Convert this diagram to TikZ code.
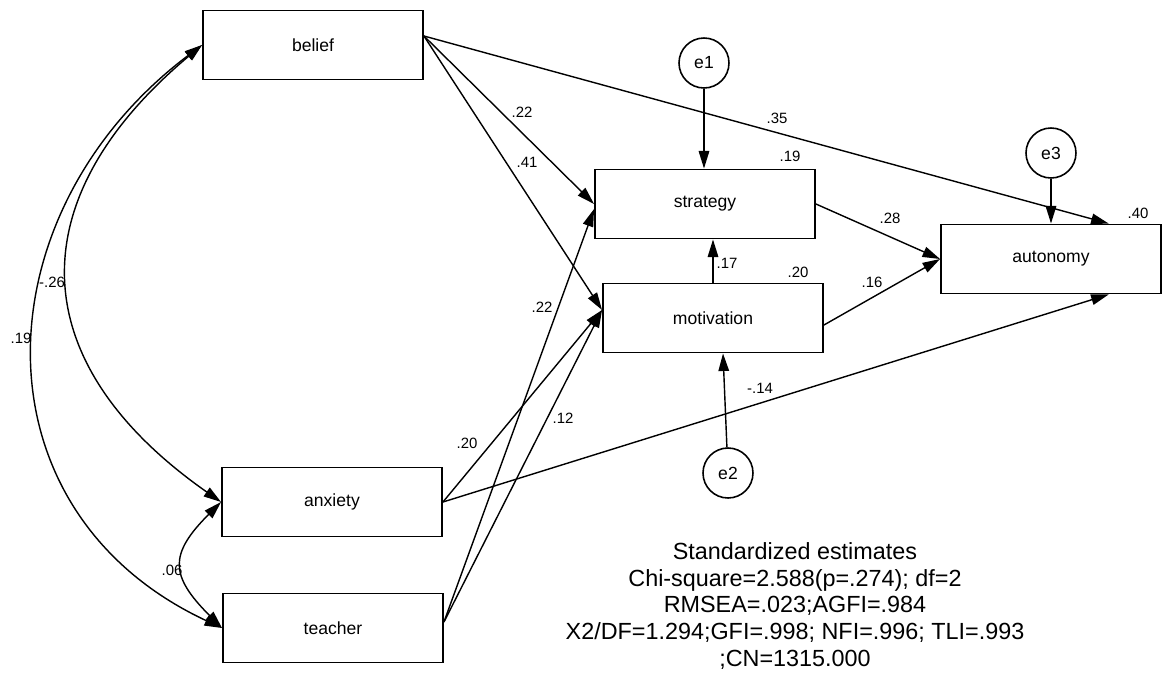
\documentclass[tikz,border=0pt]{standalone}
\usepackage{fontspec}
\setmainfont{Liberation Sans}
\usetikzlibrary{arrows.meta, calc}
\tikzset{
    var box/.style={
        draw, line width=1.1pt, minimum width=4.4cm, minimum height=1.38cm,
        inner sep=0pt, font=\fontsize{10}{12}\selectfont
    },
    err circle/.style={
        draw, circle, line width=0.9pt, minimum size=1cm,
        inner sep=0pt, font=\fontsize{10}{12}\selectfont
    },
    path arrow/.style={line width=0.8pt, -{Triangle[length=10pt,width=6pt]}},
    cov arrow/.style={line width=0.8pt,
        {Triangle[length=10pt,width=6pt]}-{Triangle[length=10pt,width=6pt]}},
    coef/.style={font=\fontsize{8.5}{10}\selectfont, inner sep=0pt}
}
\begin{document}
\begin{tikzpicture}[x=0.02cm, y=0.02cm]

\useasboundingbox (0,0) rectangle (1171,-674);

% Variables observadas
\node[var box] (belief) at (313,-45) {belief};
\node[var box] (anxiety) at (332,-502) {anxiety};
\node[var box] (teacher) at (333,-628) {teacher};
\node[var box] (strategy) at (705,-204) {strategy};
\node[var box] (motivation) at (713,-318) {motivation};
\node[var box] (autonomy) at (1051,-259) {autonomy};

% Errores
\node[err circle] (e1) at (704,-63) {e1};
\node[err circle] (e2) at (728,-473) {e2};
\node[err circle] (e3) at (1051,-153) {e3};

% Puntos de salida y llegada de las flechas
\coordinate (belief out) at ($(belief.east)+(0,9)$);
\coordinate (teacher out) at ($(teacher.east)+(0,6)$);
\coordinate (strategy in) at ($(strategy.west)+(0,-5)$);
\coordinate (motivation in) at ($(motivation.west)+(0,8)$);
\coordinate (motivation out) at ($(motivation.east)+(0,-7)$);
\coordinate (motivation low) at ($(motivation.south)+(10,0)$);
\coordinate (autonomy top) at ($(autonomy.north)!0.52!(autonomy.north east)$);
\coordinate (autonomy low) at ($(autonomy.south)!0.52!(autonomy.south east)$);

% Efectos directos
\draw[path arrow] (belief out) -- (strategy.west);
\draw[path arrow] (belief out) -- (motivation in);
\draw[path arrow] (belief out) -- (autonomy top);
\draw[path arrow] (anxiety.east) -- (motivation in);
\draw[path arrow] (anxiety.east) -- (autonomy low);
\draw[path arrow] (teacher out) -- (strategy in);
\draw[path arrow] (teacher out) -- (motivation in);
\draw[path arrow] (strategy.east) -- (autonomy.west);
\draw[path arrow] (motivation out) -- (autonomy.west);
\draw[path arrow] (motivation.north) -- (motivation.north |- strategy.south);

% Flechas de los errores
\draw[path arrow] (e1) -- (e1 |- strategy.north);
\draw[path arrow] (e2) -- (motivation low);
\draw[path arrow] (e3) -- (autonomy.north);

% Covarianzas
\draw[cov arrow] (belief.west) to[out=217, in=155, looseness=1.22] (teacher.west);
\draw[cov arrow] (belief.west) to[out=220, in=145, looseness=1.35] (anxiety.west);
\draw[cov arrow] (anxiety.west) to[out=225, in=135, looseness=1.5] (teacher.west);

% Coeficientes
\node[coef] (c bs) at (522,-112) {.22};
\node[coef] (c bm) at (527,-162) {.41};
\node[coef] (c ba) at (777,-118) {.35};
\node[coef] (r strategy) at (790,-156) {.19};
\node[coef] (c ms) at (727,-263) {.17};
\node[coef] (r motivation) at (798,-272) {.20};
\node[coef] (c ts) at (542,-307) {.22};
\node[coef] (c sa) at (890,-218) {.28};
\node[coef] (c ma) at (872,-282) {.16};
\node[coef] (r autonomy) at (1138,-213) {.40};
\node[coef] (c aa) at (760,-388) {-.14};
\node[coef] (c tm) at (563,-418) {.12};
\node[coef] (c am) at (467,-443) {.20};
\node[coef] (c bx) at (52,-282) {-.26};
\node[coef] (c bt) at (21,-338) {.19};
\node[coef] (c xt) at (172,-570) {.06};

% Indices de ajuste
\node[align=center, font=\fontsize{13.3}{15.3}\selectfont] (fit) at (795,-606)
    {Standardized estimates\\
     Chi-square=2.588(p=.274); df=2\\
     RMSEA=.023;AGFI=.984\\
     X2/DF=1.294;GFI=.998; NFI=.996; TLI=.993\\
     ;CN=1315.000};

\end{tikzpicture}
\end{document}
